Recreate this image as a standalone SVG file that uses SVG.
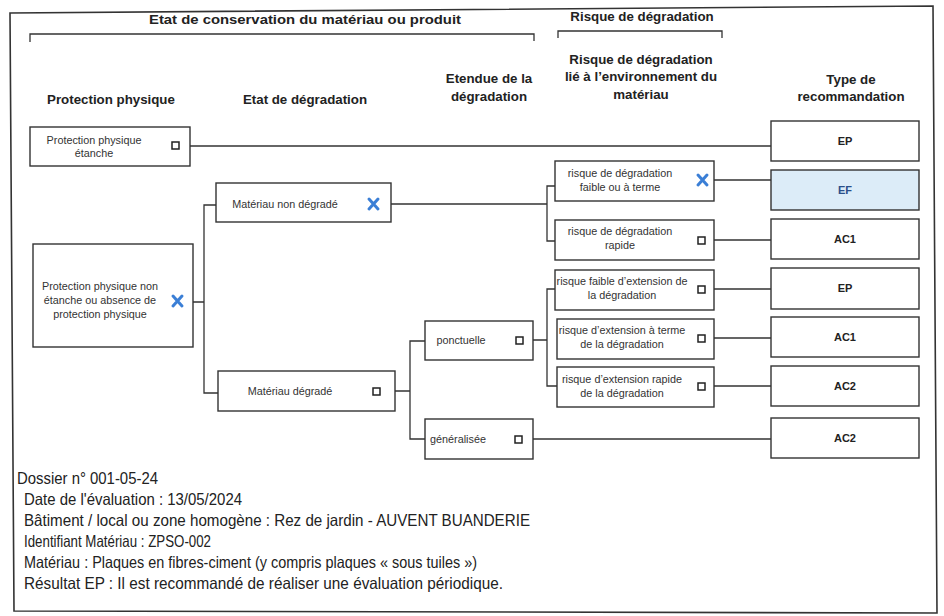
<svg xmlns="http://www.w3.org/2000/svg" width="944" height="616" viewBox="0 0 944 616">
<defs>
<style>
.frame{fill:none;stroke:#333;stroke-width:1.6}
.box{fill:#fff;stroke:#333;stroke-width:1.4}
.conn{fill:none;stroke:#333;stroke-width:1.3}
.hdr{font-family:"Liberation Sans",Arial,sans-serif;font-weight:bold;font-size:13.3px;fill:#222;text-anchor:middle}
.t{font-family:"Liberation Sans",Arial,sans-serif;font-size:10.8px;fill:#333;text-anchor:middle}
.r{font-family:"Liberation Sans",Arial,sans-serif;font-weight:bold;font-size:11px;fill:#222;text-anchor:middle}
.cb{fill:none;stroke:#222;stroke-width:1.5}
.x{stroke:#3b7fd6;stroke-width:3;stroke-linecap:round}
.foot{font-family:"Liberation Sans Narrow","Liberation Sans",Arial,sans-serif;font-size:16.5px;fill:#222}
</style>
</defs>
<rect width="944" height="616" fill="#fff"/>
<path class="frame" d="M10 13 L933 6 L937 613 L14 611 Z"/>

<g id="headers">
<text class="hdr" x="305" y="24" textLength="312" lengthAdjust="spacingAndGlyphs">Etat de conservation du matériau ou produit</text>
<path class="conn" d="M30 42 V34 H534 V41" stroke-width="1.8"/>
<text class="hdr" x="642" y="21">Risque de dégradation</text>
<path class="conn" d="M558 38 V31 H722 V38" stroke-width="1.8"/>
<text class="hdr" x="111" y="104">Protection physique</text>
<text class="hdr" x="305" y="104">Etat de dégradation</text>
<text class="hdr" x="489" y="83">Etendue de la</text>
<text class="hdr" x="489" y="101">dégradation</text>
<text class="hdr" x="641" y="64">Risque de dégradation</text>
<text class="hdr" x="641" y="81">lié à l’environnement du</text>
<text class="hdr" x="641" y="99">matériau</text>
<text class="hdr" x="851" y="84">Type de</text>
<text class="hdr" x="851" y="101">recommandation</text>
</g>

<g id="connectors">
<path class="conn" d="M190 146 H771"/>
<path class="conn" d="M193 302 H204 M216 205 H204 V393 H218"/>
<path class="conn" d="M391 204 H547 M555 186 H547 V241 H555"/>
<path class="conn" d="M714 180 H771 M714 240 H771"/>
<path class="conn" d="M395 391 H410 M425 341 H410 V439 H425"/>
<path class="conn" d="M533 340 H547 M555 289 H547 V386 H557"/>
<path class="conn" d="M714 289 H771 M714 338 H771 M714 386 H771"/>
<path class="conn" d="M533 439 H771"/>
</g>

<g id="n-pp-etanche">
<rect class="box" x="30" y="127" width="160" height="39"/>
<text class="t" x="94" y="144">Protection physique</text>
<text class="t" x="94" y="157">étanche</text>
<rect class="cb" x="172" y="142" width="7" height="7"/>
</g>

<g id="n-pp-non-etanche">
<rect class="box" x="33" y="244" width="160" height="103"/>
<text class="t" x="100" y="290">Protection physique non</text>
<text class="t" x="100" y="304">étanche ou absence de</text>
<text class="t" x="100" y="318">protection physique</text>
<path class="x" d="M173 296 L182 306 M182 296 L173 306"/>
</g>

<g id="n-non-degrade">
<rect class="box" x="216" y="183" width="175" height="39"/>
<text class="t" x="285" y="208">Matériau non dégradé</text>
<path class="x" d="M369 199 L378 209 M378 199 L369 209"/>
</g>

<g id="n-degrade">
<rect class="box" x="218" y="371" width="177" height="40"/>
<text class="t" x="290" y="395">Matériau dégradé</text>
<rect class="cb" x="373" y="388" width="7" height="7"/>
</g>

<g id="n-ponctuelle">
<rect class="box" x="425" y="321" width="108" height="39"/>
<text class="t" x="461" y="344">ponctuelle</text>
<rect class="cb" x="516" y="337" width="7" height="7"/>
</g>

<g id="n-generalisee">
<rect class="box" x="425" y="419" width="108" height="40"/>
<text class="t" x="458" y="443">généralisée</text>
<rect class="cb" x="515" y="436" width="7" height="7"/>
</g>

<g id="n-risque-faible">
<rect class="box" x="555" y="161" width="159" height="40"/>
<text class="t" x="620" y="177">risque de dégradation</text>
<text class="t" x="620" y="191">faible ou à terme</text>
<path class="x" d="M698 175 L707 185 M707 175 L698 185"/>
</g>

<g id="n-risque-rapide">
<rect class="box" x="555" y="220" width="159" height="40"/>
<text class="t" x="620" y="235">risque de dégradation</text>
<text class="t" x="620" y="249">rapide</text>
<rect class="cb" x="698" y="237" width="7" height="7"/>
</g>

<g id="n-ext-faible">
<rect class="box" x="555" y="270" width="159" height="40"/>
<text class="t" x="622" y="285">risque faible d’extension de</text>
<text class="t" x="622" y="299">la dégradation</text>
<rect class="cb" x="698" y="286" width="7" height="7"/>
</g>

<g id="n-ext-terme">
<rect class="box" x="557" y="319" width="157" height="40"/>
<text class="t" x="622" y="334">risque d’extension à terme</text>
<text class="t" x="622" y="348">de la dégradation</text>
<rect class="cb" x="698" y="335" width="7" height="7"/>
</g>

<g id="n-ext-rapide">
<rect class="box" x="557" y="367" width="157" height="40"/>
<text class="t" x="622" y="383">risque d’extension rapide</text>
<text class="t" x="622" y="397">de la dégradation</text>
<rect class="cb" x="698" y="383" width="7" height="7"/>
</g>

<g id="r-ep1">
<rect class="box" x="771" y="121" width="148" height="40"/>
<text class="r" x="845" y="145">EP</text>
</g>
<g id="r-ef">
<rect class="box" x="771" y="170" width="148" height="40" style="fill:#dcecf8"/>
<text class="r" x="845" y="194" style="fill:#2a4f8a">EF</text>
</g>
<g id="r-ac1a">
<rect class="box" x="771" y="219" width="148" height="40"/>
<text class="r" x="845" y="243">AC1</text>
</g>
<g id="r-ep2">
<rect class="box" x="771" y="268" width="148" height="41"/>
<text class="r" x="845" y="292">EP</text>
</g>
<g id="r-ac1b">
<rect class="box" x="771" y="317" width="148" height="40"/>
<text class="r" x="845" y="341">AC1</text>
</g>
<g id="r-ac2a">
<rect class="box" x="771" y="366" width="148" height="40"/>
<text class="r" x="845" y="390">AC2</text>
</g>
<g id="r-ac2b">
<rect class="box" x="771" y="418" width="148" height="40"/>
<text class="r" x="845" y="442">AC2</text>
</g>

<g id="footer">
<text class="foot" x="17" y="484" textLength="141" lengthAdjust="spacingAndGlyphs">Dossier n° 001-05-24</text>
<text class="foot" x="24" y="505" textLength="218" lengthAdjust="spacingAndGlyphs">Date de l'évaluation : 13/05/2024</text>
<text class="foot" x="24" y="526" textLength="506" lengthAdjust="spacingAndGlyphs">Bâtiment / local ou zone homogène : Rez de jardin - AUVENT BUANDERIE</text>
<text class="foot" x="24" y="547" textLength="187" lengthAdjust="spacingAndGlyphs">Identifiant Matériau : ZPSO-002</text>
<text class="foot" x="24" y="568" textLength="453" lengthAdjust="spacingAndGlyphs">Matériau : Plaques en fibres-ciment (y compris plaques « sous tuiles »)</text>
<text class="foot" x="24" y="589" textLength="479" lengthAdjust="spacingAndGlyphs">Résultat EP : Il est recommandé de réaliser une évaluation périodique.</text>
</g>
</svg>
